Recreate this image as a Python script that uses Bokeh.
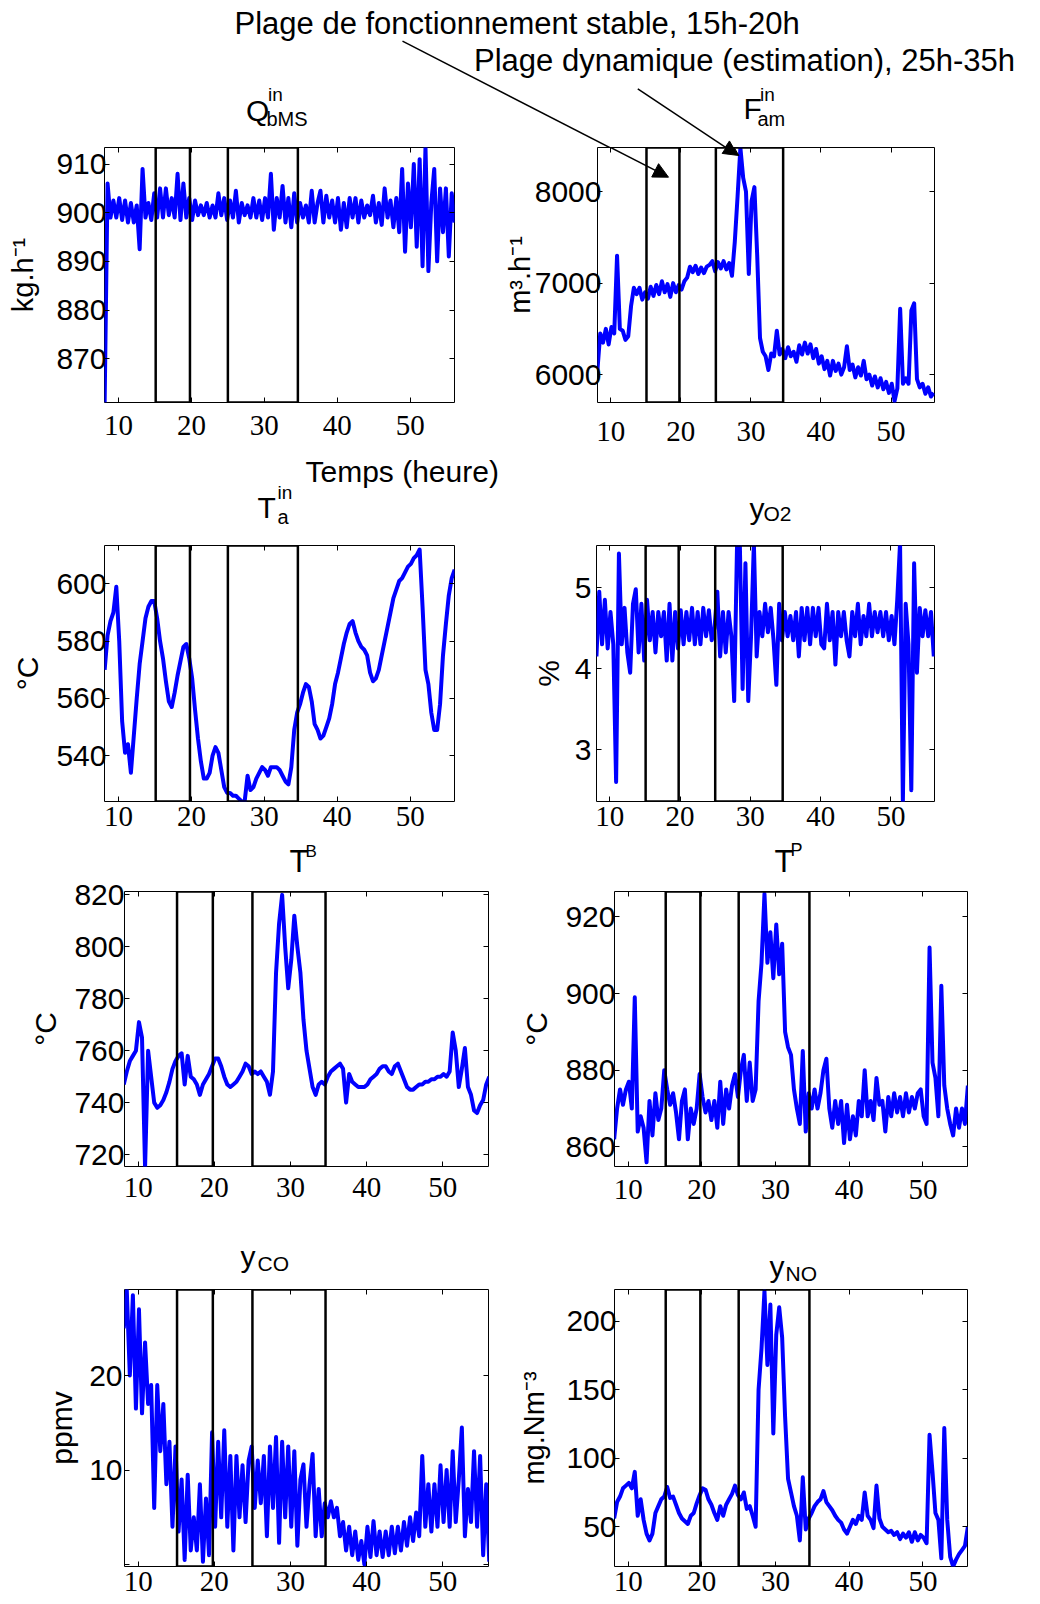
from bokeh.plotting import figure
from bokeh.layouts import column, row
from bokeh.models import (Range1d, FixedTicker, LinearAxis, Label, Arrow,
                          NormalHead, ColumnDataSource)
from bokeh.embed import file_html
from bokeh.resources import INLINE

# ---------------- data ----------------
time_h = [8.1, 8.5, 8.9, 9.3, 9.7, 10.1, 10.5, 10.9, 11.3, 11.7,
          12.1, 12.5, 12.9, 13.3, 13.7, 14.1, 14.5, 14.9, 15.3, 15.7,
          16.1, 16.5, 16.9, 17.3, 17.7, 18.1, 18.5, 18.9, 19.3, 19.7,
          20.1, 20.5, 20.9, 21.3, 21.7, 22.1, 22.5, 22.9, 23.3, 23.7,
          24.1, 24.5, 24.9, 25.3, 25.7, 26.1, 26.5, 26.9, 27.3, 27.7,
          28.1, 28.5, 28.9, 29.3, 29.7, 30.1, 30.5, 30.9, 31.3, 31.7,
          32.1, 32.5, 32.9, 33.3, 33.7, 34.1, 34.5, 34.9, 35.3, 35.7,
          36.1, 36.5, 36.9, 37.3, 37.7, 38.1, 38.5, 38.9, 39.3, 39.7,
          40.1, 40.5, 40.9, 41.3, 41.7, 42.1, 42.5, 42.9, 43.3, 43.7,
          44.1, 44.5, 44.9, 45.3, 45.7, 46.1, 46.5, 46.9, 47.3, 47.7,
          48.1, 48.5, 48.9, 49.3, 49.7, 50.1, 50.5, 50.9, 51.3, 51.7,
          52.1, 52.5, 52.9, 53.3, 53.7, 54.1, 54.5, 54.9, 55.3, 55.7,
          56.1]

q_bms = [861, 906, 899, 902.5, 899, 903, 898.5, 902.5, 898, 902,
         898, 901.5, 892.5, 909, 899, 902, 898.5, 904, 899, 905,
         899, 905, 899.5, 903, 899, 908, 898.5, 906, 899, 903,
         898.5, 902.5, 899.5, 901.5, 899.5, 902, 899, 901.5, 899, 904,
         899.5, 903, 898.5, 902.5, 899, 904.5, 898, 902, 899.5, 901.5,
         899, 903, 899, 902.5, 898.5, 903, 899, 908, 896.5, 903,
         899, 905.5, 898, 903, 897, 904, 898, 902, 899, 901.5,
         898, 904.5, 898, 902, 904.5, 898, 903.5, 899, 902.5, 898,
         903, 896.5, 902, 897, 903, 899, 903, 898, 902.5, 899,
         901.5, 899.5, 903.5, 898, 902, 897.5, 905, 899, 902.5, 897,
         903, 896, 909, 892, 906, 897, 910, 893, 911, 889,
         913.5, 888, 902, 909, 890, 905, 896, 905, 891, 904,
         898]

f_am = [6050, 6450, 6350, 6500, 6330, 6520, 6450, 7300, 6500, 6480,
        6380, 6420, 6750, 6950, 6880, 6950, 6820, 6900, 6830, 6960,
        6860, 6980, 6880, 7020, 6900, 6990, 6850, 7000, 6900, 6980,
        6930, 7020, 7060, 7180, 7120, 7190, 7100, 7170, 7110, 7180,
        7200, 7240, 7130, 7230, 7160, 7240, 7150, 7220, 7080, 7450,
        7950, 8480, 8150, 8000, 7100, 7900, 8050, 7300, 6400, 6250,
        6200, 6050, 6230, 6200, 6480, 6220, 6280, 6180, 6300, 6200,
        6250, 6140, 6320, 6220, 6350, 6230, 6330, 6180, 6280, 6120,
        6200, 6060, 6150, 5990, 6150, 6040, 6120, 6000, 6080, 6310,
        6050, 6110, 5970, 6080, 5990, 6150, 5950, 6000, 5880, 5980,
        5860, 5960, 5840, 5920, 5800, 5900, 5710, 5850, 6720, 5900,
        5960, 5900, 6700, 6780, 5950, 5860, 5900, 5790, 5860, 5760,
        5800]

t_a = [570, 582, 587, 590, 599, 580, 552, 541, 544, 534,
       547, 560, 572, 580, 588, 592, 594, 594, 588, 580,
       574, 566, 559, 557, 562, 568, 573, 578, 579, 574,
       567, 556, 546, 538, 532, 532, 534, 540, 543, 541,
       535, 529, 527, 527, 526, 526, 525, 524, 524, 533,
       528, 529, 532, 534, 536, 535, 533, 536, 536, 536,
       535, 533, 531, 530, 536, 549, 555, 558, 562, 565,
       564, 559, 551, 549, 546, 547, 550, 553, 558, 565,
       569, 574, 579, 583, 586, 587, 583, 580, 578, 577,
       575, 569, 566, 567, 570, 575, 580, 585, 590, 595,
       598, 601, 602, 604, 606, 607, 609, 610, 612, 592,
       570, 565, 555, 549, 549, 558, 575, 586, 596, 602,
       605]

y_o2 = [4.15, 4.95, 4.3, 4.85, 4.25, 4.7, 4.3, 2.6, 5.42, 4.3,
        4.75, 4.2, 3.95, 4.8, 4.98, 4.2, 4.8, 4.1, 4.85, 4.35,
        4.7, 4.2, 4.7, 4.4, 4.7, 4.1, 4.8, 4.1, 4.7, 4.25,
        4.72, 4.3, 4.7, 4.35, 4.75, 4.3, 4.7, 4.3, 4.75, 4.4,
        4.72, 4.35, 4.5, 4.95, 4.15, 4.7, 4.2, 4.7, 4.4, 3.6,
        5.5, 5.55, 3.75, 5.3, 3.6, 4.4, 5.55, 4.15, 4.7, 4.4,
        4.8, 4.45, 4.75, 4.35, 3.8, 4.8, 4.35, 4.7, 4.4, 4.65,
        4.35, 4.7, 4.15, 4.75, 4.35, 4.75, 4.3, 4.75, 4.4, 4.75,
        4.3, 4.25, 4.8, 4.35, 4.7, 4.05, 4.7, 4.4, 4.7, 4.35,
        4.15, 4.7, 4.4, 4.8, 4.3, 4.65, 4.4, 4.8, 4.4, 4.7,
        4.45, 4.7, 4.4, 4.7, 4.35, 4.65, 4.3, 4.85, 5.55, 2.35,
        4.8, 4.3, 2.5, 5.3, 3.95, 4.75, 4.4, 4.72, 4.4, 4.7,
        4.15]

t_b = [747, 752, 756, 758, 760, 771, 765, 715, 760, 750,
       740, 738, 739, 741, 744, 748, 753, 756, 758, 759,
       747, 758, 750, 749, 747, 743, 747, 749, 751, 754,
       757, 757, 754, 750, 747, 746, 747, 748, 750, 752,
       755, 754, 751, 752, 751, 752, 750, 748, 743, 752,
       790, 809, 820, 800, 784, 795, 812, 800, 790, 772,
       760, 753, 746, 743, 747, 748, 747, 750, 752, 753,
       754, 755, 753, 740, 751, 748, 747, 746, 746, 746,
       747, 749, 750, 751, 753, 754, 754, 752, 751, 754,
       755, 752, 749, 746, 745, 745, 746, 747, 747, 748,
       748, 749, 749, 750, 750, 751, 750, 752, 767, 760,
       746, 753, 761, 746, 743, 737, 736, 739, 741, 747,
       750]

t_p = [862, 870, 875, 871, 875, 877, 870, 899, 864, 868,
       865, 856, 872, 863, 874, 867, 870, 880, 875, 871,
       874, 869, 862, 872, 875, 862, 870, 866, 870, 879,
       873, 869, 872, 867, 872, 865, 877, 866, 875, 870,
       876, 879, 873, 880, 884, 872, 882, 872, 875, 898,
       908, 926, 908, 916, 904, 918, 905, 913, 890, 886,
       884, 875, 870, 866, 885, 864, 874, 870, 875, 870,
       874, 880, 883, 870, 865, 872, 866, 872, 861, 871,
       862, 868, 863, 872, 868, 880, 868, 872, 867, 878,
       871, 872, 864, 873, 868, 874, 869, 873, 868, 874,
       869, 873, 870, 874, 875, 868, 866, 912, 882, 878,
       868, 902, 876, 870, 866, 863, 870, 865, 870, 866,
       876]

y_co = [25, 29, 20, 28.5, 16.5, 27, 16, 23.5, 17, 19,
        6, 19, 12, 17, 8.5, 13, 4, 12.5, 3.5, 9,
        0.5, 9.5, 1.5, 5, 1.5, 8.5, 0.3, 7, 1, 14,
        4, 13, 5, 14.2, 4, 11.5, 1.5, 11.5, 5, 10.5,
        4.5, 11, 12.5, 6, 11, 6.5, 11.5, 3, 12.5, 6,
        13.5, 2.3, 13, 5, 12.5, 4, 12, 2, 9, 10.6,
        4, 8.5, 11.7, 3, 8, 3, 6.5, 5, 6.7, 5,
        6, 3, 4.5, 1.5, 4, 1, 3.5, 0.5, 2.5, 0,
        4, 0.8, 4.6, 1, 3.5, 0.8, 3.5, 1, 4, 1.2,
        4, 1.5, 4.5, 2, 5, 2.5, 5.5, 3, 11.5, 4,
        8.5, 3.5, 8.5, 4, 10.5, 4.5, 10, 4, 12, 4.5,
        9, 14.5, 3, 8, 4.5, 12, 4, 11.5, 1, 8.5,
        0.3]

y_no = [56, 68, 72, 78, 80, 82, 78, 90, 58, 70,
        55, 45, 40, 45, 60, 65, 70, 72, 79, 71,
        72, 66, 60, 56, 54, 52, 58, 60, 67, 73,
        78, 77, 70, 66, 60, 55, 65, 58, 66, 70,
        74, 80, 73, 70, 75, 63, 65, 58, 50, 150,
        180, 222, 168, 212, 118, 190, 210, 188, 130, 85,
        75, 65, 58, 40, 86, 48, 56, 60, 65, 68,
        70, 76, 68, 65, 62, 58, 55, 53, 48, 45,
        50, 55, 52, 58, 55, 75, 58, 55, 49, 80,
        56, 50, 48, 46, 47, 44, 46, 41, 45, 42,
        46, 39, 46, 40, 44, 42, 38, 117, 90, 60,
        55, 27, 122, 55, 28, 21, 26, 30, 33, 36,
        50]

# operating windows (hours): stable 15h-20h, dynamic 25h-35h
win_start = [15.1, 25.0]
win_end = [19.8, 34.6]

x_ticks = [10, 20, 30, 40, 50]

SANS = "Liberation Sans"
SERIF = "Liberation Serif"
BLUE = "#0000ff"


def make_axis(ticker, show, standoff, font, size):
    ax = LinearAxis(ticker=ticker, axis_line_color=None, major_tick_in=5,
                    major_tick_out=0, major_tick_line_color="black",
                    major_tick_line_width=1, minor_tick_line_color=None,
                    major_label_standoff=standoff)
    if show:
        ax.major_label_text_font = font
        ax.major_label_text_font_size = size
        ax.major_label_text_color = "black"
    else:
        ax.major_label_text_font_size = "0px"
        ax.major_label_text_color = None
        ax.major_label_overrides = {v: "" for v in ticker.ticks}
    return ax


def add_label(p, txt, x, y, size):
    # (x, y): left end of the text baseline, in page pixels
    p.add_layout(Label(x=x, y=y - 0.33 * size, text=txt,
                       text_font=SANS, text_font_size=f"{size}px",
                       text_color="black", text_align="left",
                       text_baseline="alphabetic"))


def make_panel(values, y_rng, y_tks, s):
    l, r, t, b = s["mb"]
    p = figure(width=s["w"], height=s["h"], x_range=Range1d(*s["xr"]),
               y_range=Range1d(*y_rng), x_axis_type=None, y_axis_type=None,
               toolbar_location=None, output_backend="svg",
               min_border_left=l, min_border_right=r,
               min_border_top=t, min_border_bottom=b)
    p.outline_line_color = "black"
    p.outline_line_width = 1
    p.background_fill_color = "white"
    p.border_fill_color = "white"
    xt = FixedTicker(ticks=x_ticks)
    yt = FixedTicker(ticks=y_tks)
    p.add_layout(make_axis(xt, True, s["xs"], SERIF, "29px"), "below")
    left = make_axis(yt, True, s["ys"], SANS, "30px")
    if "hide" in s:
        left.major_label_overrides = {v: "" for v in s["hide"]}
    left.axis_label = s["ylab"]
    left.axis_label_text_font = SANS
    left.axis_label_text_font_size = f"{s['lsz']}px"
    left.axis_label_text_font_style = "normal"
    left.axis_label_text_color = "black"
    left.axis_label_standoff = s["ls"]
    p.add_layout(left, "left")
    p.add_layout(make_axis(FixedTicker(ticks=x_ticks), False, 0, SANS, "0px"), "above")
    p.add_layout(make_axis(FixedTicker(ticks=y_tks), False, 0, SANS, "0px"), "right")
    src = ColumnDataSource(dict(t=time_h, v=values))
    p.line("t", "v", source=src, line_color=BLUE, line_width=4,
           line_join="round")
    p.quad(left=win_start, right=win_end, bottom=[y_rng[0]] * 2,
           top=[y_rng[1]] * 2, fill_color=None, line_color="black",
           line_width=2.5)
    return p


def strip(y0, y1):
    s = figure(width=1040, height=y1 - y0, x_range=Range1d(0, 1040),
               y_range=Range1d(y1, y0), x_axis_type=None, y_axis_type=None,
               toolbar_location=None, output_backend="svg",
               min_border_left=0, min_border_right=0, min_border_top=0,
               min_border_bottom=0)
    s.outline_line_color = None
    s.background_fill_color = "white"
    s.border_fill_color = "white"
    return s


# layout bands (page pixels)
R1, H1 = 147, 306
R2, H2 = 545, 294
R3, H3 = 878, 347
R4, H4 = 1289, 314

specs = {
    "p1": dict(w=500, h=H1, mb=(104, 46, 0, 51), xr=(8.08, 56.08), xs=13, ys=-2,
               ylab="kg.h⁻¹", lsz=29, ls=14),
    "p2": dict(w=540, h=H1, mb=(96, 106, 0, 51), xr=(8.11, 56.2), xs=19, ys=-4,
               ylab="m³.h⁻¹", lsz=29, ls=-4),
    "p3": dict(w=500, h=H2, mb=(104, 46, 0, 38), xr=(8.08, 56.08), xs=5, ys=-2,
               ylab="°C", lsz=30, ls=9),
    "p4": dict(w=540, h=H2, mb=(96, 106, 0, 38), xr=(8.11, 56.2), xs=5, ys=5,
               ylab="%", lsz=30, ls=7),
    "p5": dict(w=500, h=H3, mb=(124, 12, 13, 59), xr=(8.2, 56.0), xs=11, ys=0,
               ylab="°C", lsz=30, ls=9),
    "p6": dict(w=540, h=H3, mb=(114, 73, 13, 59), xr=(8.15, 56.05), xs=13, ys=-1,
               ylab="°C", lsz=30, ls=9),
    "p7": dict(w=500, h=H4, mb=(124, 12, 0, 37), xr=(8.2, 56.0), xs=5, ys=2,
               hide=[0], ylab="ppmv", lsz=30, ls=8),
    "p8": dict(w=540, h=H4, mb=(114, 73, 0, 37), xr=(8.15, 56.05), xs=5, ys=-2,
               ylab="mg.Nm⁻³", lsz=29, ls=13),
}

p1 = make_panel(q_bms, (861, 913.4), [870, 880, 890, 900, 910], specs["p1"])
p2 = make_panel(f_am, (5695, 8483), [6000, 7000, 8000], specs["p2"])
p3 = make_panel(t_a, (524, 613.4), [540, 560, 580, 600], specs["p3"])
p4 = make_panel(y_o2, (2.36, 5.52), [3, 4, 5], specs["p4"])
p5 = make_panel(t_b, (715.4, 821.3), [720, 740, 760, 780, 800, 820], specs["p5"])
p6 = make_panel(t_p, (854.9, 926.6), [860, 880, 900, 920], specs["p6"])
p7 = make_panel(y_co, (-0.2, 29.1), [0, 10, 20], specs["p7"])
p8 = make_panel(y_no, (21, 223), [50, 100, 150, 200], specs["p8"])

# arrows (page pixels): start -> tip
arrows = [(402, 40.7, 667, 176.7), (637.3, 88.3, 737.3, 155)]

# header band: annotation texts, first-row titles, arrows
hdr = strip(0, R1)
for (txt, px, py, size) in [
        ("Plage de fonctionnement stable, 15h-20h", 234, 33.3, 31),
        ("Plage dynamique (estimation), 25h-35h", 473.5, 70, 31),
        ("Q", 245.5, 120, 30), ("in", 267.5, 100, 19), ("bMS", 266, 125, 20),
        ("F", 743, 118, 30), ("in", 759.5, 100, 19), ("am", 757, 125, 20)]:
    add_label(hdr, txt, px, py, size)
for (sx, sy, ex, ey) in arrows:
    hdr.add_layout(Arrow(end=NormalHead(size=15, fill_color="black",
                                        line_color="black", line_width=1),
                         x_start=sx, y_start=sy, x_end=ex, y_end=ey,
                         line_color="black", line_width=1.5))

# the part of the arrows that falls inside the F_am frame
fl2 = 500 + 96
fb2 = R1 + H1 - 51
for (sx, sy, ex, ey) in arrows:
    p2.add_layout(Arrow(end=NormalHead(size=15, fill_color="black",
                                       line_color="black", line_width=1),
                        x_start=sx - fl2, y_start=fb2 - sy,
                        x_end=ex - fl2, y_end=fb2 - ey,
                        start_units="screen", end_units="screen",
                        line_color="black", line_width=1.5))

s2 = strip(R1 + H1, R2)
for (txt, px, py, size) in [
        ("Temps (heure)", 305, 480.5, 30),
        ("T", 257, 517, 30), ("in", 277, 498, 19), ("a", 277, 523, 20),
        ("y", 749, 517.5, 30), ("O2", 763, 520, 21)]:
    add_label(s2, txt, px, py, size)

s3 = strip(R2 + H2, R3)
for (txt, px, py, size) in [
        ("T", 289, 871, 31), ("B", 305, 857, 17),
        ("T", 774, 871, 31), ("P", 790, 855, 18)]:
    add_label(s3, txt, px, py, size)

s4 = strip(R3 + H3, R4)
for (txt, px, py, size) in [
        ("y", 240, 1265.6, 30), ("CO", 257, 1270, 21),
        ("y", 769, 1275.6, 30), ("NO", 785, 1280, 21)]:
    add_label(s4, txt, px, py, size)

layout = column(hdr, row(p1, p2), s2, row(p3, p4), s3, row(p5, p6), s4,
                row(p7, p8))

open("out.html", "w").write(file_html(layout, INLINE))
